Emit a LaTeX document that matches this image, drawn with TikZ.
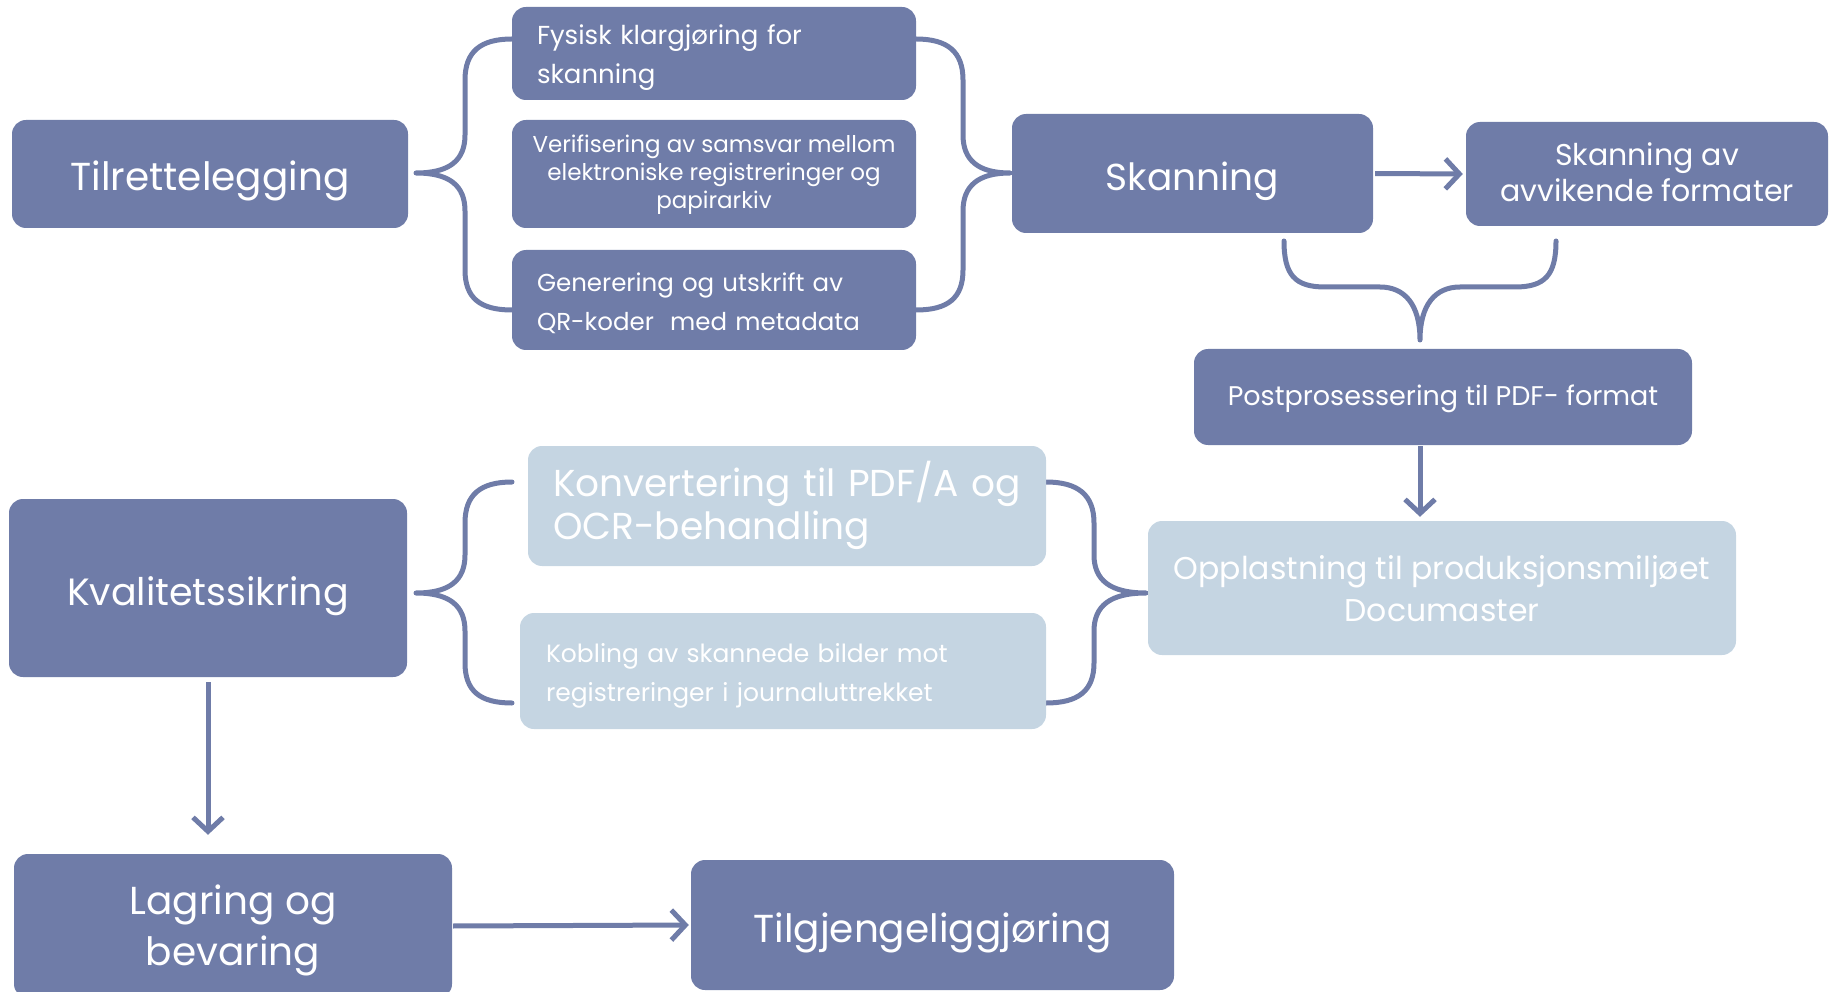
\documentclass[tikz,border=0pt]{standalone}
\usepackage{fontspec}
\setmainfont{Poppins}
\usetikzlibrary{arrows.meta}
\definecolor{dk}{HTML}{6F7CA8}
\definecolor{lt}{HTML}{C5D5E2}
\tikzset{
  box/.style={rounded corners=14pt, fill=dk, text=white, inner sep=0pt, align=center},
  lbox/.style={box, fill=lt},
  brace/.style={draw=dk, line width=5pt, line cap=round, line join=round},
  arr/.style={draw=dk, line width=5pt, -{Straight Barb[length=14pt,width=30pt]}},
  up/.style={text height=0pt, text depth=#1},
  dn/.style={text depth=0pt, text height=#1},
}
\newcommand{\fs}[2]{\fontsize{#1}{#2}\selectfont}
\begin{document}
\begin{tikzpicture}[x=1pt,y=-1pt]
\useasboundingbox (0,0) rectangle (1837,992);
% braces
\coordinate (tipA) at (416,173);
\coordinate (tipB) at (1010,173);
\coordinate (tipC) at (1420,340);
\coordinate (tipD) at (416,593);
\coordinate (tipE) at (1146,593);
\draw[brace] (512,39) .. controls (480,39) and (465,52) .. (465,80) -- (465,135)
  .. controls (465,160) and (450,173) .. (tipA)
  .. controls (450,173) and (465,186) .. (465,211) -- (465,270)
  .. controls (465,298) and (480,310) .. (512,310);
\draw[brace] (916,39) .. controls (948,39) and (963,52) .. (963,80) -- (963,135)
  .. controls (963,160) and (978,173) .. (tipB)
  .. controls (978,173) and (963,186) .. (963,211) -- (963,270)
  .. controls (963,298) and (948,310) .. (916,310);
\draw[brace] (1284,241) .. controls (1284,275) and (1295,287) .. (1325,287) -- (1380,287)
  .. controls (1405,287) and (1420,305) .. (tipC)
  .. controls (1420,305) and (1435,287) .. (1460,287) -- (1515,287)
  .. controls (1545,287) and (1556,275) .. (1556,241);
\draw[brace] (512,482) .. controls (480,482) and (465,495) .. (465,523) -- (465,555)
  .. controls (465,580) and (450,593) .. (tipD)
  .. controls (450,593) and (465,606) .. (465,631) -- (465,663)
  .. controls (465,691) and (480,703) .. (512,703);
\draw[brace] (1046,482) .. controls (1078,482) and (1094,495) .. (1094,523) -- (1094,555)
  .. controls (1094,580) and (1110,593) .. (tipE)
  .. controls (1110,593) and (1094,606) .. (1094,631) -- (1094,663)
  .. controls (1094,691) and (1078,703) .. (1046,703);
% nodes
\node[box, dn=34pt, minimum width=396pt, minimum height=108pt, font=\fs{39}{46}] (tilr) at (210,174) {Tilrettelegging};
\node[box, up=17.5pt, minimum width=404pt, minimum height=93pt, text width=354pt, align=left, font=\fs{26}{39}] (fys) at (714,53.5) {Fysisk klargjøring for\\skanning};
\node[box, dn=69.5pt, minimum width=404pt, minimum height=108pt, font=\fs{23}{28}] (ver) at (714,174) {Verifisering av samsvar mellom\\elektroniske registreringer og\\papirarkiv};
\node[box, up=16.5pt, minimum width=404pt, minimum height=100pt, text width=354pt, align=left, font=\fs{24.5}{39}] (gen) at (714,300) {Generering og utskrift av\\QR-koder\ \ med metadata};
\node[box, dn=34.5pt, minimum width=361pt, minimum height=119pt, font=\fs{37.5}{46}] (skan) at (1192.5,173.5) {Skanning};
\node[box, dn=54.5pt, minimum width=362pt, minimum height=104pt, font=\fs{30}{36}] (avv) at (1647,174) {Skanning av\\avvikende formater};
\node[box, dn=17.5pt, minimum width=498pt, minimum height=96pt, font=\fs{27}{30}] (post) at (1443,397) {Postprosessering til PDF- format};
\node[lbox, dn=66.5pt, minimum width=588pt, minimum height=134pt, font=\fs{31.5}{42}] (oppl) at (1442,588) {Opplastning til produksjonsmiljøet\\Documaster};
\node[lbox, up=20pt, minimum width=518pt, minimum height=120pt, text width=468pt, align=left, font=\fs{37.5}{43}] (konv) at (787,506) {Konvertering til PDF/A og\\OCR-behandling};
\node[lbox, up=16.5pt, minimum width=526pt, minimum height=116pt, text width=474pt, align=left, font=\fs{25}{39}] (kobl) at (783,671) {Kobling av skannede bilder mot\\registreringer i journaluttrekket};
\node[box, dn=35pt, minimum width=398pt, minimum height=178pt, font=\fs{38}{46}] (kval) at (208,588) {Kvalitetssikring};
\node[box, dn=79pt, minimum width=438pt, minimum height=144pt, font=\fs{39}{51.5}] (lagr) at (233,926) {Lagring og\\bevaring};
\node[box, dn=34pt, minimum width=483pt, minimum height=130pt, font=\fs{39}{46}] (tilg) at (932.5,925) {Tilgjengeliggjøring};
% arrows
\draw[arr, shorten <=2pt, shorten >=3pt] (skan.east) -- (avv.west);
\draw[arr, shorten <=1pt, shorten >=4pt] (post.south -| tipC) -- (oppl.north -| tipC);
\draw[arr, shorten <=5pt, shorten >=19pt] (kval.south) -- (kval.south |- lagr.north);
\draw[arr, shorten <=1pt, shorten >=2pt] (lagr.east) -- (tilg.west);
\end{tikzpicture}
\end{document}
